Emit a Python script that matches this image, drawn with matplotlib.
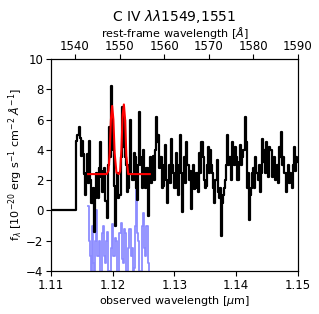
import numpy as np
import matplotlib
matplotlib.use('Agg')
import matplotlib.pyplot as plt

# redshift of the C IV doublet
z = 6.233

# observed spectrum (flux in 1e-20 erg/s/cm2/A); first 28 pixels are empty
flux = [0] * 28 + [
    4.6, 5.0, 5.5, 4.8, 3.6, 4.6, 3.7, 2.4, 1.0, 2.5,
    3.7, 1.8, 4.6, 2.0, 0.5, 1.5, -1.4, 0.8, 2.5, 1.2,
    0.8, 2.8, 4.5, 2.2, 1.2, 2.6, 2.8, 0.6, -0.5, 3.0,
    5.5, 3.5, 8.2, 4.8, 4.0, 1.6, -1.0, 1.5, 2.5, 0.8,
    1.0, 3.5, 6.8, 4.2, 6.0, 3.5, 3.0, 1.2, 1.5, 3.0,
    6.0, 2.4, 2.0, 3.8, 3.5, 1.5, 0.7, 3.0, 6.5, 3.5,
    3.0, 1.5, 4.0, 2.0, 1.5, 2.8, -0.4, 2.0, 3.5, 1.8,
    2.5, 3.6, 2.0, 4.0, 6.2, 4.5, 5.0, 2.8, 3.5, 1.5,
    1.6, 3.0, 4.3, 2.0, 0.5, 2.0, 3.0, 1.8, 4.7, 3.0,
    2.5, 1.5, 3.8, 2.2, 1.0, 3.0, 5.0, 2.5, -0.1, 2.0,
    3.5, 1.8, 4.5, 3.0, 2.0, 2.6, 0.1, 1.8, 3.0, 1.4,
    1.5, 2.5, 2.5, 1.2, 3.8, 2.5, 4.5, 3.5, 2.0, 1.5,
    1.6, 3.0, 4.2, 2.5, 4.0, 3.0, 2.5, 1.5, 0.5, 2.0,
    3.3, 1.2, 0.8, 1.5, -1.7, 0.5, 1.0, 1.5, 2.0, 3.0,
    5.0, 3.0, 3.5, 2.0, 4.5, 3.8, 3.0, 4.2, 3.5, 2.0,
    2.0, 3.2, 4.3, 3.0, 3.5, 4.0, 6.2, 4.5, 1.5, 2.5,
    -0.6, 1.0, 1.5, 2.5, 2.8, 1.5, 3.5, 2.5, 2.0, 3.0,
    1.2, 2.5, 4.7, 3.2, 4.0, 2.5, 4.5, 3.8, 2.2, 4.2,
    4.0, 2.2, 2.5, 3.5, 2.0, 2.8, 3.0, 1.8, 4.2, 3.5,
    5.2, 3.0, 3.5, 2.5, 1.2, 2.5, 3.0, 1.8, 2.5, 2.0,
    1.5, 3.0, 4.2, 2.6, 3.5, 3.2]
wave = np.linspace(1.1093, 1.1500, len(flux))

# second (blue) spectrum over the line region
flux_b = [0.3, -2.0, -3.0, -4.5, -1.0, -3.5, -4.5, -2.0, 0.0, -3.0,
          -2.0, -4.5, -4.5, -1.5, -1.0, -3.0, -3.5, -2.0, -1.4, -4.0,
          -4.2, -2.5, -0.9, -3.0, -3.0, -1.8, -2.0, -4.5, -4.2, -1.5,
          -0.8, -3.2, -3.5, -1.2, -1.5, -4.0, -4.2, -2.5, -1.2, -3.0,
          -2.5, -4.5, -3.8, -1.0, 2.2, -1.5, -2.0, -4.0, -4.2, -1.0,
          -0.2, -2.5, -3.0, -1.0, -1.0, -3.5, -4.5]
wave_b = np.linspace(1.1160, 1.1260, len(flux_b))

# best-fit model
model_x = [1.1160, 1.1190, 1.1193, 1.1195, 1.1197, 1.1199, 1.1201, 1.1203,
           1.1206, 1.1210, 1.1212, 1.1214, 1.1216, 1.1218, 1.1220, 1.1222,
           1.1225, 1.1260]
model_y = [2.4, 2.4, 2.6, 3.8, 6.0, 6.9, 6.0, 3.8,
           2.5, 2.4, 2.6, 4.0, 6.3, 7.0, 6.0, 3.6,
           2.4, 2.4]

fig = plt.figure(figsize=(3.19, 3.14), dpi=100)
ax = fig.add_axes([0.16, 0.137, 0.774, 0.675])

ax.plot(wave_b, flux_b, drawstyle='steps-mid', color='blue', alpha=0.45, lw=1.3)
ax.plot(wave, flux, drawstyle='steps-mid', color='black', lw=1.6)
ax.plot(model_x, model_y, color='red', lw=1.5)

ax.set_xlim(1.11, 1.15)
ax.set_ylim(-4, 10)
ax.set_xticks([1.11, 1.12, 1.13, 1.14, 1.15])
ax.set_yticks([-4, -2, 0, 2, 4, 6, 8, 10])
ax.tick_params(labelsize=8.5, pad=2)
ax.set_xlabel(r'observed wavelength [$\mu$m]', fontsize=8, labelpad=2)
ax.set_ylabel(r'f$_\lambda$ [10$^{-20}$ erg s$^{-1}$ cm$^{-2}$ $\AA^{-1}$]', fontsize=8, labelpad=1)

# rest-frame axis on top
ax2 = ax.twiny()
ax2.set_xlim(1.11e4 / (1 + z), 1.15e4 / (1 + z))
ax2.set_xticks([1540, 1550, 1560, 1570, 1580, 1590])
ax2.tick_params(labelsize=8.5, pad=1)
ax2.set_xlabel(r'rest-frame wavelength [$\AA$]', fontsize=8, labelpad=2)
ax2.set_title(r'C IV $\lambda\lambda$1549,1551', fontsize=10, pad=1)

fig.savefig('out.png', dpi=100)
